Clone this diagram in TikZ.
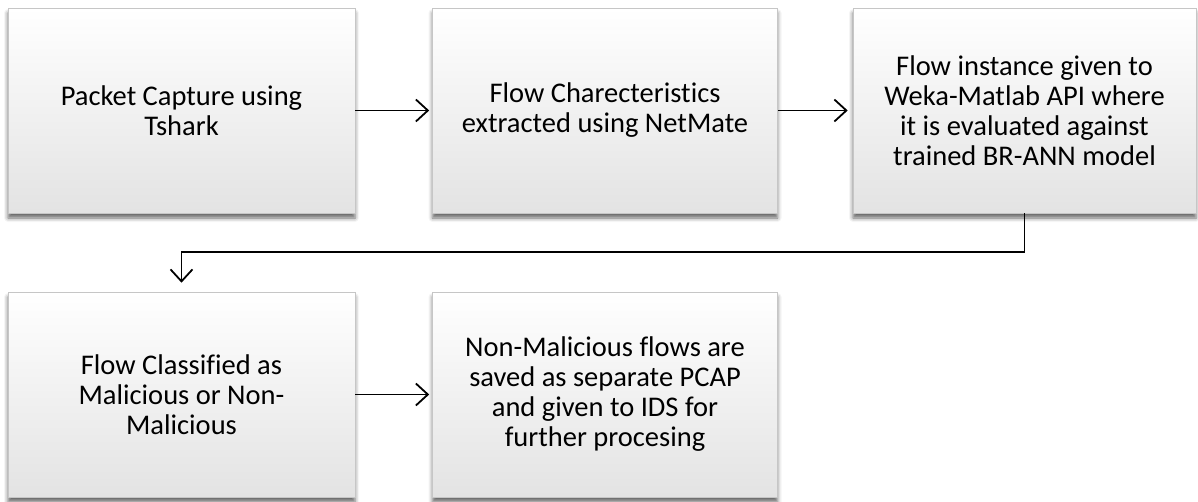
\documentclass[tikz,border=0pt]{standalone}
\usepackage{fontspec}
\setmainfont[Ligatures=NoCommon]{Carlito}
\usetikzlibrary{arrows.meta,shadows.blur}

\begin{document}
\begin{tikzpicture}[x=1pt,y=-1pt,
	box/.style={draw=gray!45,line width=0.6pt,top color=white,bottom color=gray!22,
		minimum height=205pt,inner sep=0pt,align=center,font=\fontsize{28.5}{30}\selectfont,
		blur shadow={shadow xshift=0pt,shadow yshift=-5pt,shadow blur radius=4pt,shadow opacity=60}},
	link/.style={-{Straight Barb[length=12pt,width=22pt]},line width=1.8pt}]
	\useasboundingbox (0,0) rectangle (1198,502);
	\node[box,minimum width=347pt] (1) at (181.5,110.5) {Packet Capture using\\Tshark};
	\node[box,minimum width=345pt] (2) at (605,110.5) {Flow Charecteristics\\extracted using NetMate};
	\node[box,minimum width=343pt] (3) at (1024.5,110.5) {Flow instance given to\\Weka-Matlab API where\\it is evaluated against\\trained BR-ANN model};
	\node[box,minimum width=347pt] (4) at (181.5,394.5) {Flow Classified as\\Malicious or Non-\\Malicious};
	\node[box,minimum width=345pt] (5) at (605,394.5) {Non-Malicious flows are\\saved as separate PCAP\\and given to IDS for\\further procesing};
	\draw[link,shorten >=3pt] (1) -- (2);
	\draw[link,shorten >=5pt] (2) -- (3);
	\draw[link,shorten >=9pt] (3.south) -- ++(0,39) -| (4.north);
	\draw[link,shorten >=3pt] (4) -- (5);
\end{tikzpicture}
\end{document}
